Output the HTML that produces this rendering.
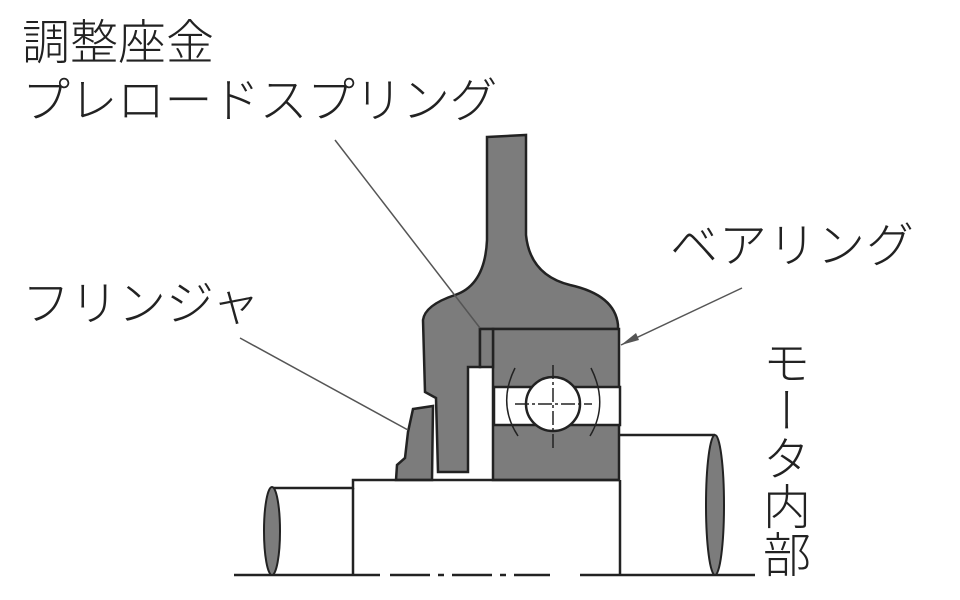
<!DOCTYPE html>
<html><head><meta charset="utf-8"><style>
body{margin:0;background:#fff;width:960px;height:600px;overflow:hidden;position:relative;font-family:"Liberation Sans","Noto Sans CJK JP",sans-serif;color:#222}
.t{position:absolute;font-size:48px;line-height:1;white-space:nowrap;font-weight:300}
</style></head><body>
<svg width="960" height="600" style="position:absolute;left:0;top:0">
<g stroke="#222" stroke-width="2.5" fill="#7c7c7c">
<path d="M487,137 L526,135 L526,235 Q530,275 570,285 Q615,295 618,325 L618,329 L480,329 L480,367 L468,367 L468,472 L438,472 L436,398 L425,392 L423,320 Q425,305 455,295 Q485,285 487,240 Z"/>
<rect x="493" y="329" width="126" height="151"/>
<rect x="480" y="329" width="13" height="38"/>
<path d="M413,409 L433,406 L432,480 L396,480 L397,465 L405,458 L408,432 Z"/>
</g>
<rect x="494" y="387" width="126" height="38" fill="#fff" stroke="#222" stroke-width="2.5"/>
<circle cx="553" cy="404" r="27" fill="#fff" stroke="#222" stroke-width="2.5"/>
<g stroke="#222" stroke-width="1.5" fill="none">
<path d="M515,368 Q497,404 518,436"/><path d="M591,368 Q609,404 590,436"/>
<line x1="553" y1="365" x2="553" y2="448" stroke-dasharray="14,3,3,3"/>
<line x1="515" y1="404" x2="592" y2="404" stroke-dasharray="14,3,3,3"/>
</g>
<g stroke="#222" stroke-width="2.5" fill="none">
<polyline points="272,488 353,488 353,480 619,480"/>
<line x1="353" y1="488" x2="353" y2="575"/>
<polyline points="620,435 715,435"/>
<line x1="620" y1="480" x2="620" y2="575"/>
<line x1="234" y1="575" x2="380" y2="575"/>
<line x1="390" y1="575" x2="550" y2="575" stroke-dasharray="40,8,6,8"/>
<line x1="580" y1="575" x2="755" y2="575"/>
</g>
<ellipse cx="272" cy="531" rx="8" ry="44" fill="#7c7c7c" stroke="#222" stroke-width="2"/>
<ellipse cx="715" cy="505" rx="9" ry="70" fill="#7c7c7c" stroke="#222" stroke-width="2"/>
<g stroke="#555" stroke-width="1.5" fill="none">
<line x1="335" y1="140" x2="480" y2="328"/>
<line x1="240" y1="338" x2="408" y2="430"/>
<line x1="742" y1="288" x2="621" y2="345"/>
</g>
<path d="M621,345 L636,333 L639,340 Z" fill="#555"/>
</svg>
<div class="t" style="left:22px;top:20px">調整座金</div>
<div class="t" style="left:22px;top:78px;letter-spacing:-0.5px">プレロードスプリング</div>
<div class="t" style="left:22px;top:281px">フリンジャ</div>
<div class="t" style="left:670px;top:223px;letter-spacing:1px">ベアリング</div>
<div class="t" style="left:757px;top:338px;writing-mode:vertical-rl;font-size:48px;line-height:48px">モータ内部</div>
</body></html>
